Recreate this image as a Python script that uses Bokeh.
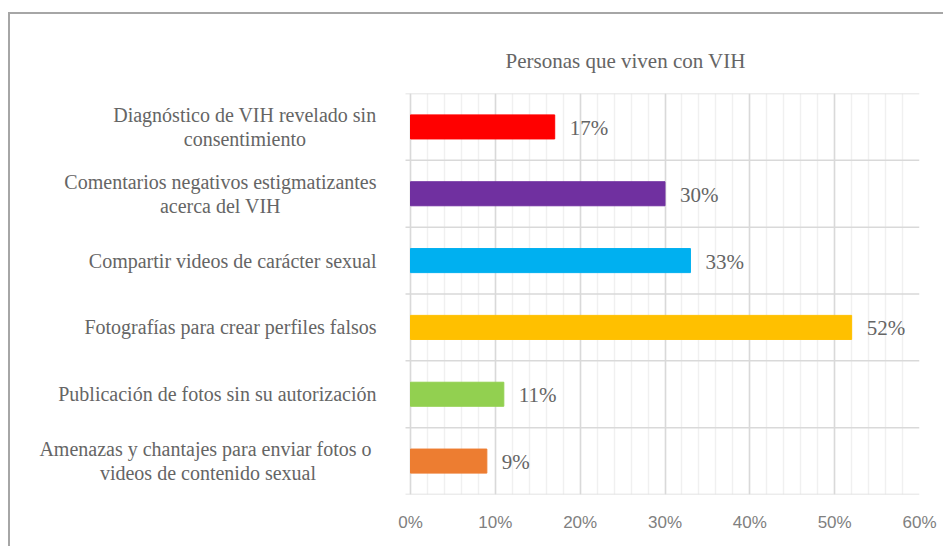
from bokeh.plotting import figure
from bokeh.models import ColumnDataSource, FixedTicker, NumeralTickFormatter, Range1d
from bokeh.core.properties import value
from bokeh.embed import file_html
from bokeh.resources import INLINE

# ---- data (bottom to top) ----
categories = [
    "Amenazas y chantajes para enviar fotos  o\nvideos de contenido sexual",
    "Publicación de fotos sin su autorización",
    "Fotografías para crear perfiles falsos",
    "Compartir videos de carácter sexual",
    "Comentarios negativos estigmatizantes\nacerca del VIH",
    "Diagnóstico de VIH revelado sin\nconsentimiento",
]
values = [0.09, 0.11, 0.52, 0.33, 0.30, 0.17]
colors = ["#ED7D31", "#92D050", "#FFC000", "#00B0F0", "#7030A0", "#FF0000"]
x_ticks = [0, 0.1, 0.2, 0.3, 0.4, 0.5, 0.6]
title_text = "Personas que viven con VIH"

# ---- layout constants (pixels) ----
LABEL_AREA = 400      # px left of the 0% line reserved for category labels
PLOT_W = 509          # px from 0% to 60%
X_MAX = x_ticks[-1]
px = X_MAX / PLOT_W   # data units per pixel
TEXT_GRAY = "#656565"

n = len(categories)
ypos = [i + 0.5 for i in range(n)]
bounds = list(range(n + 1))
labels = [f"{round(v * 100)}%" for v in values]

src = ColumnDataSource(dict(y=ypos, v=values, c=colors, lab=labels, cat=categories))

p = figure(width=935, height=534, output_backend="svg", toolbar_location=None,
           x_range=Range1d(-LABEL_AREA * px, X_MAX), y_range=Range1d(0, n),
           min_border_left=0, min_border_right=26, min_border_top=79, min_border_bottom=54)
p.styles = {"margin-left": "8px", "margin-top": "12px",
            "border-left": "2px solid #a6a6a6", "border-top": "2px solid #a6a6a6"}

# category separators (horizontal grid lines with small outward ticks)
p.segment(x0=[-5 * px] * len(bounds), x1=[X_MAX] * len(bounds), y0=bounds, y1=bounds,
          line_color="#d9d9d9", line_width=1.5)

p.hbar(y="y", right="v", left=0, height=0.36, color="c", source=src)
p.text(x="v", y="y", text="lab", source=src, x_offset=15, y_offset=1, text_baseline="middle",
       text_font=value("Liberation Serif"), text_font_size="21px", text_color=TEXT_GRAY)

# category labels: block right-aligned, lines centred
p.text(x=-34 * px, y="y", text="cat", source=src, anchor="center_right", text_align="center",
       text_font=value("Liberation Serif"), text_font_size="20px", text_color=TEXT_GRAY,
       text_line_height=1.1)

# x axis
p.xaxis.ticker = FixedTicker(ticks=x_ticks,
                             minor_ticks=[round(i * 0.02, 2) for i in range(31)])
p.xaxis.formatter = NumeralTickFormatter(format="0%")
p.xaxis.axis_line_color = None
p.xaxis.major_tick_line_color = None
p.xaxis.minor_tick_line_color = None
p.xaxis.major_label_text_font = "Liberation Sans"
p.xaxis.major_label_text_font_size = "17px"
p.xaxis.major_label_text_color = "#808080"
p.xaxis.major_label_standoff = 12
p.yaxis.visible = False

# grids
p.xgrid.ticker = FixedTicker(ticks=x_ticks,
                             minor_ticks=[round(i * 0.02, 2) for i in range(31)])
p.xgrid.grid_line_color = "#d9d9d9"
p.xgrid.grid_line_width = 1.5
p.xgrid.minor_grid_line_color = "#f0f0f0"
p.xgrid.minor_grid_line_width = 1.5
p.ygrid.grid_line_color = None

p.outline_line_color = None

# title
p.title.text = title_text
p.title.align = "left"
p.title.offset = 495
p.title.text_font = "Liberation Serif"
p.title.text_font_size = "21px"
p.title.text_font_style = "normal"
p.title.text_color = TEXT_GRAY
p.title.standoff = 41

open("out.html", "w").write(file_html(p, INLINE))
